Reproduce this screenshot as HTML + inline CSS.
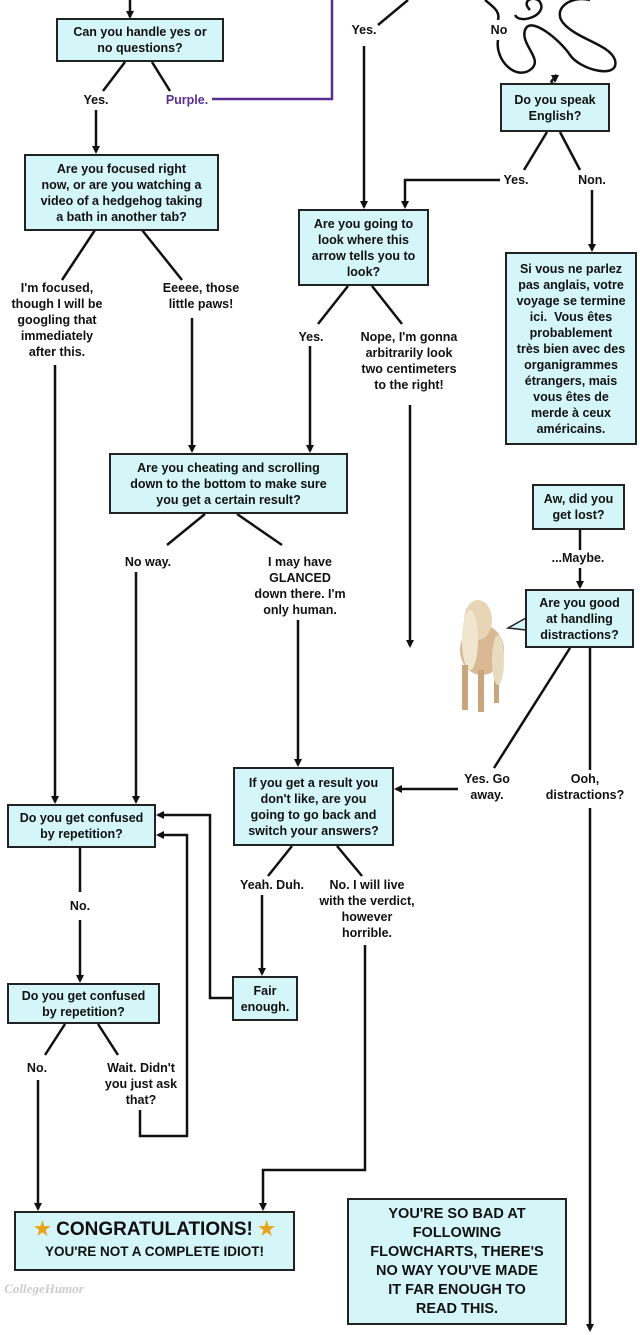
<!DOCTYPE html>
<html><head><meta charset="utf-8"><style>
body{margin:0;width:640px;height:1335px;background:#fff;position:relative;overflow:hidden;font-family:"Liberation Sans",sans-serif;}
.b{position:absolute;background:#d4f6f8;border:2px solid #222;box-sizing:border-box;display:flex;align-items:center;justify-content:center;text-align:center;font-size:12.5px;font-weight:bold;line-height:16px;color:#111;}
.t{position:absolute;text-align:center;font-size:12.5px;font-weight:bold;line-height:16px;color:#111;white-space:nowrap;transform:translateX(-50%);}
svg{position:absolute;left:0;top:0;}
</style></head><body>
<svg width="640" height="1335">
<defs><marker id="a" markerWidth="8" markerHeight="8" refX="6" refY="4" orient="auto" markerUnits="userSpaceOnUse"><path d="M0,0 L8,4 L0,8 Z" fill="#111"/></marker></defs>
<g stroke="#111" stroke-width="2.5" fill="none">
<path d="M130,0 V17" marker-end="url(#a)"/>
<path d="M125,62 L103,91"/><path d="M152,62 L170,91"/>
<path d="M96,110 V152" marker-end="url(#a)"/>
<path d="M95,230 L62,280"/><path d="M142,230 L182,280"/>
<path d="M55,365 V802" marker-end="url(#a)"/>
<path d="M192,318 V451" marker-end="url(#a)"/>
<path d="M408,0 L378,25"/>
<path d="M364,46 V207" marker-end="url(#a)"/>
<path d="M485,0 C495,8 500,12 498,20"/>
<path d="M498,40 C495,60 515,80 530,70 C545,60 520,45 525,30 C530,15 560,40 570,55 C580,70 620,80 615,60 C610,45 580,40 565,25 C550,10 570,-5 590,0 M530,10 C520,0 535,-5 540,2 C548,15 520,25 515,15 M555,75 C560,78 545,80 555,85"/>
<path d="M555,78 V81" marker-end="url(#a)"/>
<path d="M547,132 L524,170"/><path d="M560,132 L580,170"/>
<path d="M500,180 H405 V207" marker-end="url(#a)"/>
<path d="M592,190 V250" marker-end="url(#a)"/>
<path d="M348,286 L318,324"/><path d="M372,286 L402,324"/>
<path d="M310,346 V451" marker-end="url(#a)"/>
<path d="M410,405 V646" marker-end="url(#a)"/>
<path d="M205,514 L167,545"/><path d="M237,514 L282,545"/>
<path d="M136,572 V802" marker-end="url(#a)"/>
<path d="M298,620 V765" marker-end="url(#a)"/>
<path d="M580,530 V550"/><path d="M580,568 V587" marker-end="url(#a)"/>
<path d="M570,648 L494,768"/>
<path d="M590,648 V770"/>
<path d="M590,808 V1330" marker-end="url(#a)"/>
<path d="M458,789 H396" marker-end="url(#a)"/>
<path d="M292,846 L268,876"/><path d="M337,846 L362,876"/>
<path d="M262,895 V974" marker-end="url(#a)"/>
<path d="M365,945 V1170 H263 V1209" marker-end="url(#a)"/>
<path d="M232,998 H210 V815 H158" marker-end="url(#a)"/>
<path d="M80,848 V892"/><path d="M80,920 V981" marker-end="url(#a)"/>
<path d="M65,1024 L45,1055"/><path d="M98,1024 L118,1055"/>
<path d="M140,1110 V1136 H187 V835 H158" marker-end="url(#a)"/>
<path d="M38,1080 V1209" marker-end="url(#a)"/>
</g>
<path d="M212,99 H332 V0" stroke="#5b2d8e" stroke-width="2.5" fill="none"/>
<path d="M526,618 L508,628 L526,630" fill="#d4f6f8" stroke="#222" stroke-width="1.5"/>
<g>
<ellipse cx="482" cy="650" rx="22" ry="25" fill="#d9b894"/>
<ellipse cx="478" cy="620" rx="14" ry="20" fill="#e8d5b5"/>
<ellipse cx="470" cy="640" rx="8" ry="30" fill="#f0e6d0"/>
<rect x="462" y="665" width="6" height="45" fill="#c9a57e"/>
<rect x="478" y="670" width="6" height="42" fill="#c9a57e"/>
<rect x="494" y="665" width="5" height="38" fill="#c9a57e"/>
<ellipse cx="498" cy="660" rx="6" ry="25" fill="#e8dcc0"/>
</g>
</svg>
<div class="b" style="left:56px;top:18px;width:168px;height:44px">Can you handle yes or<br>no questions?</div>
<div class="b" style="left:24px;top:154px;width:195px;height:77px">Are you focused right<br>now, or are you watching a<br>video of a hedgehog taking<br>a bath in another tab?</div>
<div class="b" style="left:298px;top:209px;width:131px;height:77px">Are you going to<br>look where this<br>arrow tells you to<br>look?</div>
<div class="b" style="left:500px;top:83px;width:110px;height:49px">Do you speak<br>English?</div>
<div class="b" style="left:505px;top:252px;width:132px;height:193px">Si vous ne parlez<br>pas anglais, votre<br>voyage se termine<br>ici.&nbsp; Vous êtes<br>probablement<br>très bien avec des<br>organigrammes<br>étrangers, mais<br>vous êtes de<br>merde à ceux<br>américains.</div>
<div class="b" style="left:109px;top:453px;width:239px;height:61px">Are you cheating and scrolling<br>down to the bottom to make sure<br>you get a certain result?</div>
<div class="b" style="left:532px;top:484px;width:93px;height:46px">Aw, did you<br>get lost?</div>
<div class="b" style="left:525px;top:589px;width:109px;height:59px">Are you good<br>at handling<br>distractions?</div>
<div class="b" style="left:233px;top:767px;width:161px;height:79px">If you get a result you<br>don't like, are you<br>going to go back and<br>switch your answers?</div>
<div class="b" style="left:7px;top:804px;width:149px;height:44px">Do you get confused<br>by repetition?</div>
<div class="b" style="left:7px;top:983px;width:153px;height:41px">Do you get confused<br>by repetition?</div>
<div class="b" style="left:232px;top:976px;width:66px;height:45px">Fair<br>enough.</div>
<div class="b" style="left:14px;top:1211px;width:281px;height:60px;flex-direction:column;line-height:22px"><span style="font-size:19px"><span style="color:#e8a317">★</span> CONGRATULATIONS! <span style="color:#e8a317">★</span></span><span style="font-size:13.5px">YOU'RE NOT A COMPLETE IDIOT!</span></div>
<div class="b" style="left:347px;top:1198px;width:220px;height:127px;font-size:14.5px;line-height:19px">YOU'RE SO BAD AT<br>FOLLOWING<br>FLOWCHARTS, THERE'S<br>NO WAY YOU'VE MADE<br>IT FAR ENOUGH TO<br>READ THIS.</div>
<div class="t" style="left:96px;top:92px">Yes.</div>
<div class="t" style="left:187px;top:92px;color:#5b2d8e">Purple.</div>
<div class="t" style="left:57px;top:280px">I'm focused,<br>though I will be<br>googling that<br>immediately<br>after this.</div>
<div class="t" style="left:201px;top:280px">Eeeee, those<br>little paws!</div>
<div class="t" style="left:364px;top:22px">Yes.</div>
<div class="t" style="left:499px;top:22px">No</div>
<div class="t" style="left:516px;top:172px">Yes.</div>
<div class="t" style="left:592px;top:172px">Non.</div>
<div class="t" style="left:311px;top:329px">Yes.</div>
<div class="t" style="left:409px;top:329px">Nope, I'm gonna<br>arbitrarily look<br>two centimeters<br>to the right!</div>
<div class="t" style="left:148px;top:554px">No way.</div>
<div class="t" style="left:300px;top:554px">I may have<br>GLANCED<br>down there. I'm<br>only human.</div>
<div class="t" style="left:578px;top:550px">...Maybe.</div>
<div class="t" style="left:487px;top:771px">Yes. Go<br>away.</div>
<div class="t" style="left:585px;top:771px">Ooh,<br>distractions?</div>
<div class="t" style="left:272px;top:877px">Yeah. Duh.</div>
<div class="t" style="left:367px;top:877px">No. I will live<br>with the verdict,<br>however<br>horrible.</div>
<div class="t" style="left:80px;top:898px">No.</div>
<div class="t" style="left:37px;top:1060px">No.</div>
<div class="t" style="left:141px;top:1060px">Wait. Didn't<br>you just ask<br>that?</div>
<div class="t" style="left:44px;top:1281px;color:#ccc;font-style:italic;font-family:'Liberation Serif',serif;font-size:13px">CollegeHumor</div>
</body></html>
